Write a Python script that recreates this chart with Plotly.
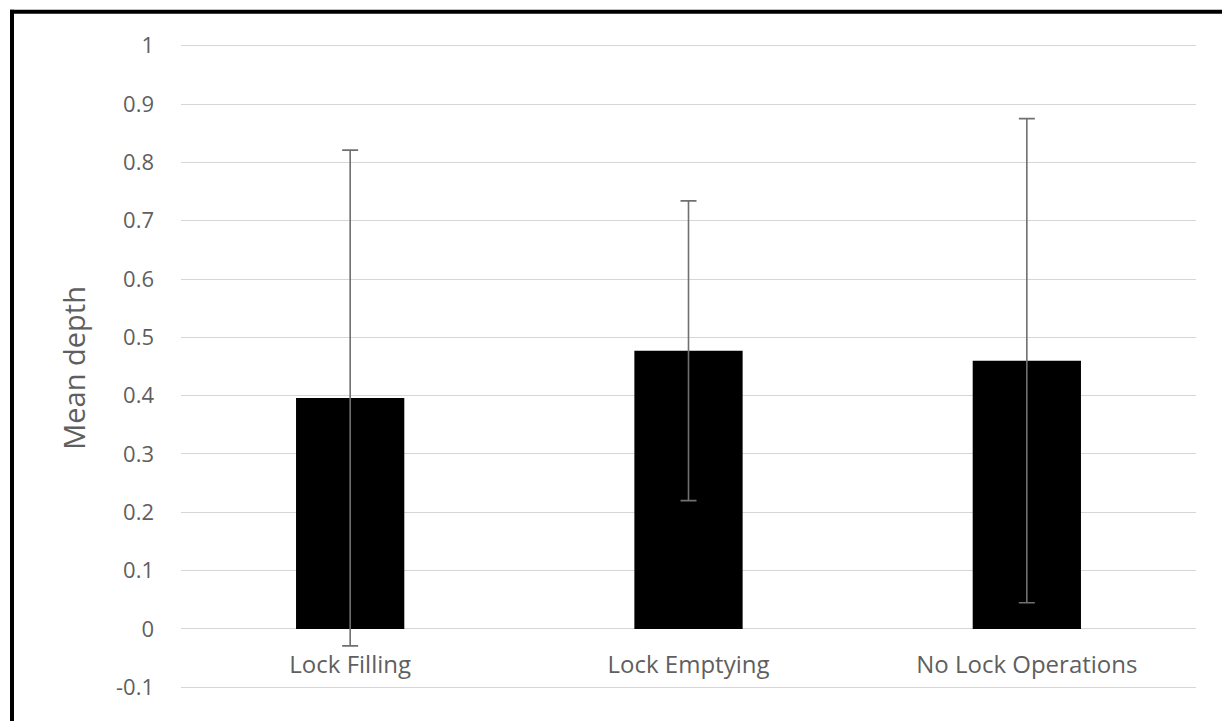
import plotly.graph_objects as go

categories = ["Lock Filling", "Lock Emptying", "No Lock Operations"]
mean_depth = [0.396, 0.477, 0.460]
error = [0.425, 0.257, 0.415]
y_ticks = [-0.1, 0, 0.1, 0.2, 0.3, 0.4, 0.5, 0.6, 0.7, 0.8, 0.9, 1]
y_tick_text = ["-0.1", "0", "0.1", "0.2", "0.3", "0.4", "0.5", "0.6", "0.7", "0.8", "0.9", "1"]

# page body has an 8px margin; work in figure pixels = page pixels - OFF
OFF = 8
W, H = 1230, 721
ymin, ymax = -0.1, 1.0
pad = 0.003
left_pg, right_pg, top_pg, bot_pg = 181, 1196, 46, 687.5
upp = (bot_pg - top_pg) / (ymax - ymin)
top_pg -= pad * upp
bot_pg += pad * upp
ML = left_pg - OFF
MR = W - (right_pg - OFF)
MT = top_pg - OFF
MB = H - (bot_pg - OFF)
pw = W - ML - MR
ph = H - MT - MB

def px_x(p):
    return (p - OFF - ML) / pw

def px_y(p):
    return (H - MB - (p - OFF)) / ph

txt = "#5f5f5f"
fnt = "Open Sans, Noto Sans, sans-serif"

fig = go.Figure(go.Bar(
    x=categories, y=mean_depth,
    marker=dict(color="black", line=dict(width=0)),
    width=0.32,
    error_y=dict(type="data", array=error, visible=True, color="#707070", thickness=1.6, width=8),
))

rng = [ymin - pad, ymax + pad]
fig.update_layout(
    width=W, height=H,
    margin=dict(l=ML, r=MR, t=MT, b=MB, autoexpand=False),
    paper_bgcolor="white", plot_bgcolor="white",
    showlegend=False,
    font=dict(family=fnt, color=txt),
    xaxis=dict(
        anchor="free", position=(0 - rng[0]) / (rng[1] - rng[0]),
        showgrid=False, showline=False, zeroline=False,
        ticks="", tickfont=dict(size=24, color=txt), ticklabelstandoff=19,
        range=[-0.5, 2.5],
    ),
    yaxis=dict(
        range=rng,
        tickvals=y_ticks, ticktext=y_tick_text,
        showgrid=True, gridcolor="#d6d6d6", gridwidth=1.3,
        zeroline=False, showline=False, ticks="",
        tickfont=dict(size=22, color=txt), ticklabelstandoff=26,
    ),
    annotations=[dict(
        text="Mean depth", xref="paper", yref="paper",
        x=px_x(74), y=px_y(368), textangle=-90,
        showarrow=False, font=dict(size=29, color=txt),
        xanchor="center", yanchor="middle",
    )],
    shapes=[
        dict(type="line", xref="paper", yref="paper", x0=px_x(10), x1=px_x(1240), y0=px_y(12), y1=px_y(12),
             line=dict(color="black", width=4)),
        dict(type="line", xref="paper", yref="paper", x0=px_x(12), x1=px_x(12), y0=px_y(10), y1=px_y(740),
             line=dict(color="black", width=4)),
        dict(type="line", xref="paper", yref="paper", x0=px_x(1228), x1=px_x(1228), y0=px_y(14), y1=px_y(740),
             line=dict(color="#9a9a9a", width=1.5)),
    ],
)

fig.write_html("out.html")
